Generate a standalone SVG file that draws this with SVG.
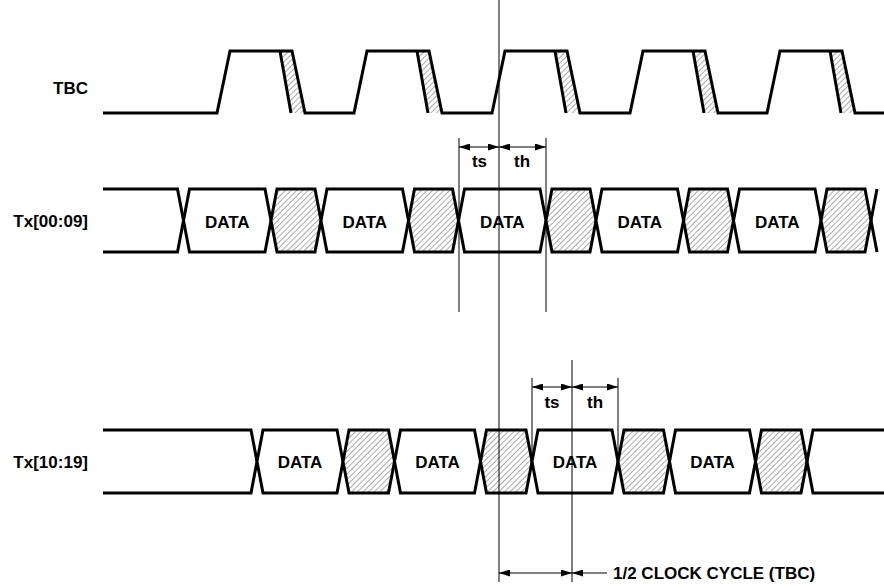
<svg xmlns="http://www.w3.org/2000/svg" width="884" height="588" viewBox="0 0 884 588">
<style>
.sig{fill:none;stroke:#000;stroke-width:3;stroke-linejoin:miter;stroke-miterlimit:4}
.box{fill:#fff;stroke:#000;stroke-width:3;stroke-linejoin:miter;stroke-miterlimit:4}
.hb{fill:url(#hatch);stroke:#000;stroke-width:3;stroke-linejoin:miter;stroke-miterlimit:4}
.thin{fill:none;stroke:#000;stroke-width:1}
.arr{fill:none;stroke:#000;stroke-width:1;marker-start:url(#ah);marker-end:url(#ah)}
text{font-family:"Liberation Sans",Arial,sans-serif;font-weight:bold;font-size:17px;fill:#000}
.lbl{text-anchor:end}
.c{text-anchor:middle}
</style>
<defs>
<pattern id="hatch" patternUnits="userSpaceOnUse" width="4" height="4" patternTransform="rotate(45)">
<rect width="4" height="4" fill="#fff"/>
<line x1="0" y1="0" x2="0" y2="4" stroke="#555" stroke-width="1"/>
</pattern>
<marker id="ah" markerUnits="userSpaceOnUse" markerWidth="11" markerHeight="7" refX="11" refY="3.5" orient="auto-start-reverse">
<path d="M0,0 L11,3.5 L0,7 z" fill="#000"/>
</marker>
</defs>

<g id="labels">
<text class="lbl" x="88" y="93.5">TBC</text>
<text class="lbl" x="88" y="227">Tx[00:09]</text>
<text class="lbl" x="88" y="468">Tx[10:19]</text>
</g>

<g id="tbc">
<polygon fill="url(#hatch)" points="280,51 292,51 305,113 291,113"/>
<polygon fill="url(#hatch)" points="417,51 429,51 442,113 428,113"/>
<polygon fill="url(#hatch)" points="555,51 567,51 580,113 566,113"/>
<polygon fill="url(#hatch)" points="693,51 705,51 718,113 704,113"/>
<polygon fill="url(#hatch)" points="830,51 842,51 855,113 841,113"/>
<path class="sig" d="M103,113 H217 L230,51 H292 L305,113 H354 L367,51 H429 L442,113 H492 L505,51 H567 L580,113 H630 L643,51 H705 L718,113 H767 L780,51 H842 L855,113 H884"/>
<path class="sig" d="M280,51 L291,113 M417,51 L428,113 M555,51 L566,113 M693,51 L704,113 M830,51 L841,113"/>
</g>

<g id="tx0009">
<path class="sig" d="M103,189 H177.5 L183.5,220.5 L177.5,252 H103"/>
<polygon class="box" points="183.5,220.5 189.5,189 265,189 271,220.5 265,252 189.5,252"/>
<polygon class="hb" points="271,220.5 277,189 315,189 321,220.5 315,252 277,252"/>
<polygon class="box" points="321,220.5 327,189 402.5,189 408.5,220.5 402.5,252 327,252"/>
<polygon class="hb" points="408.5,220.5 414.5,189 452.5,189 458.5,220.5 452.5,252 414.5,252"/>
<polygon class="box" points="458.5,220.5 464.5,189 540,189 546,220.5 540,252 464.5,252"/>
<polygon class="hb" points="546,220.5 552,189 590,189 596,220.5 590,252 552,252"/>
<polygon class="box" points="596,220.5 602,189 677.5,189 683.5,220.5 677.5,252 602,252"/>
<polygon class="hb" points="683.5,220.5 689.5,189 727.5,189 733.5,220.5 727.5,252 689.5,252"/>
<polygon class="box" points="733.5,220.5 739.5,189 815,189 821,220.5 815,252 739.5,252"/>
<polygon class="hb" points="821,220.5 827,189 865,189 871,220.5 865,252 827,252"/>
<path class="sig" d="M871,220.5 L877,189 M871,220.5 L877,252"/>
<text class="c" x="227.3" y="227.5">DATA</text>
<text class="c" x="364.8" y="227.5">DATA</text>
<text class="c" x="502.3" y="227.5">DATA</text>
<text class="c" x="639.8" y="227.5">DATA</text>
<text class="c" x="777.3" y="227.5">DATA</text>
</g>

<g id="tx1019">
<path class="sig" d="M103,430 H251 L257,461.5 L251,493 H103"/>
<polygon class="box" points="257,461.5 263,430 337,430 343,461.5 337,493 263,493"/>
<polygon class="hb" points="343,461.5 349,430 388.5,430 394.5,461.5 388.5,493 349,493"/>
<polygon class="box" points="394.5,461.5 400.5,430 474.5,430 480.5,461.5 474.5,493 400.5,493"/>
<polygon class="hb" points="480.5,461.5 486.5,430 526,430 532,461.5 526,493 486.5,493"/>
<polygon class="box" points="532,461.5 538,430 612,430 618,461.5 612,493 538,493"/>
<polygon class="hb" points="618,461.5 624,430 663.5,430 669.5,461.5 663.5,493 624,493"/>
<polygon class="box" points="669.5,461.5 675.5,430 749.5,430 755.5,461.5 749.5,493 675.5,493"/>
<polygon class="hb" points="755.5,461.5 761.5,430 801,430 807,461.5 801,493 761.5,493"/>
<path class="sig" d="M884,430 H813 L807,461.5 L813,493 H884"/>
<text class="c" x="300" y="468">DATA</text>
<text class="c" x="437.5" y="468">DATA</text>
<text class="c" x="575" y="468">DATA</text>
<text class="c" x="712.5" y="468">DATA</text>
</g>

<g id="connectors">
<line class="thin" x1="499" y1="0" x2="499" y2="582"/>
<line class="thin" x1="459" y1="138" x2="459" y2="312"/>
<line class="thin" x1="546" y1="138" x2="546" y2="312"/>
<line class="arr" x1="459" y1="147" x2="499" y2="147"/>
<line class="arr" x1="499" y1="147" x2="546" y2="147"/>
<line class="thin" x1="532" y1="378" x2="532" y2="461.5"/>
<line class="thin" x1="618" y1="378" x2="618" y2="461.5"/>
<line class="thin" x1="572" y1="360" x2="572" y2="582"/>
<line class="arr" x1="532" y1="387" x2="572" y2="387"/>
<line class="arr" x1="572" y1="387" x2="618" y2="387"/>
<line class="arr" x1="499" y1="573" x2="572" y2="573"/>
<line class="thin" x1="607" y1="573" x2="572" y2="573" marker-end="url(#ah)"/>
</g>

<g id="annotations">
<text class="c" x="479.5" y="167">ts</text>
<text class="c" x="522" y="167">th</text>
<text class="c" x="552" y="407.5">ts</text>
<text class="c" x="595" y="407.5">th</text>
<text x="613" y="579">1/2 CLOCK CYCLE (TBC)</text>
</g>
</svg>
